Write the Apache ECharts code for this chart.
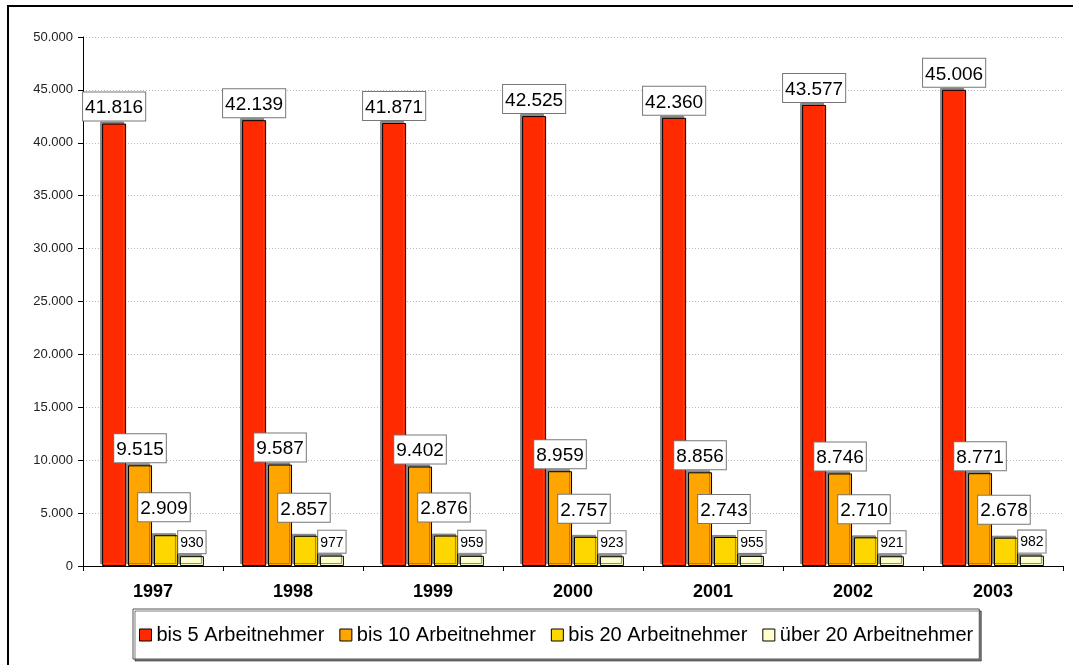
<!DOCTYPE html>
<html>
<head>
<meta charset="utf-8">
<script src="https://cdn.jsdelivr.net/npm/echarts@6/dist/echarts.min.js"></script>
<style>
  html, body { margin: 0; padding: 0; background: #fff; }
  #chart { width: 1073px; height: 665px; }
</style>
</head>
<body>
<div id="chart"></div>
<script>
// Betriebe nach Beschäftigtenzahl, 1997–2003
const years = ['1997', '1998', '1999', '2000', '2001', '2002', '2003'];
const bis5 = [41816, 42139, 41871, 42525, 42360, 43577, 45006];
const bis10 = [9515, 9587, 9402, 8959, 8856, 8746, 8771];
const bis20 = [2909, 2857, 2876, 2757, 2743, 2710, 2678];
const ueber20 = [930, 977, 959, 923, 955, 921, 982];
const seriesNames = ['bis 5 Arbeitnehmer', 'bis 10 Arbeitnehmer', 'bis 20 Arbeitnehmer', 'über 20 Arbeitnehmer'];

const colors = ['#FF2A00', '#FFA500', '#FFD700', '#FFFFCC'];
const FONT = 'Arial, "Liberation Sans", sans-serif';

// German thousands separator
function fmt(v) {
  return String(v).replace(/\B(?=(\d{3})+(?!\d))/g, '.');
}

function barSeries(name, data, color, fontSize, offset) {
  return {
    name: name,
    type: 'bar',
    data: data,
    barWidth: 24,
    barGap: '8%',
    itemStyle: {
      color: color,
      borderColor: '#000',
      borderWidth: 1,
      shadowColor: 'rgba(120,120,120,0.85)',
      shadowOffsetX: -2,
      shadowOffsetY: -2,
      shadowBlur: 0
    },
    label: {
      show: true,
      position: 'top',
      distance: 3,
      offset: offset,
      formatter: p => fmt(p.value),
      fontFamily: FONT,
      fontSize: fontSize,
      color: '#000',
      backgroundColor: '#fff',
      borderColor: '#777',
      borderWidth: 1,
      padding: fontSize > 15 ? [6, 2, 3, 2] : [5, 2, 3, 2]
    },
    emphasis: { disabled: true },
    animation: false
  };
}

const chart = echarts.init(document.getElementById('chart'), null, { renderer: 'canvas' });
chart.setOption({
  animation: false,
  color: colors,
  graphic: [{
    type: 'rect',
    shape: { x: 8, y: 6, width: 1100, height: 700 },
    style: { fill: 'none', stroke: '#000', lineWidth: 2 },
    z: 100,
    silent: true
  }],
  grid: { left: 83, right: 10, top: 37, bottom: 99 },
  legend: {
    left: 133,
    top: 609,
    width: 848,
    height: 50,
    padding: [16, 6, 14, 6],
    itemGap: 15,
    itemWidth: 12,
    itemHeight: 12,
    icon: 'rect',
    borderColor: '#555',
    borderWidth: 1,
    backgroundColor: '#fff',
    shadowColor: 'rgba(0,0,0,0.5)',
    shadowOffsetX: 2,
    shadowOffsetY: 2,
    shadowBlur: 0,
    itemStyle: { borderColor: '#000', borderWidth: 1 },
    textStyle: {
      fontFamily: FONT,
      fontSize: 20,
      color: '#000'
    },
    data: seriesNames
  },
  xAxis: {
    type: 'category',
    data: years,
    axisLine: { lineStyle: { color: '#000', width: 1 } },
    axisTick: { show: true, length: 5, lineStyle: { color: '#000' } },
    axisLabel: {
      margin: 17,
      fontFamily: FONT,
      fontWeight: 'bold',
      fontSize: 18,
      color: '#000'
    }
  },
  yAxis: {
    type: 'value',
    min: 0,
    max: 50000,
    interval: 5000,
    axisLine: { show: true, lineStyle: { color: '#000', width: 1 } },
    axisTick: { show: true, length: 5, lineStyle: { color: '#000' } },
    axisLabel: {
      margin: 10,
      formatter: v => fmt(v),
      fontFamily: FONT,
      fontSize: 13,
      color: '#222'
    },
    splitLine: { lineStyle: { color: '#b8b8b8', type: [1, 2], width: 1 } }
  },
  series: [
    barSeries(seriesNames[0], bis5, colors[0], 19, [0, 0]),
    barSeries(seriesNames[1], bis10, colors[1], 19, [0, 0]),
    barSeries(seriesNames[2], bis20, colors[2], 19, [-2, -11]),
    barSeries(seriesNames[3], ueber20, colors[3], 14, [0, 0])
  ]
});
</script>
</body>
</html>
